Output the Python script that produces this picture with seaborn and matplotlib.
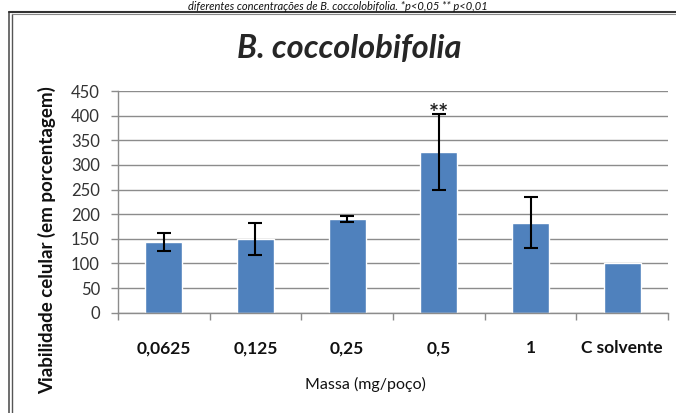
import matplotlib
matplotlib.use("Agg")
import matplotlib.pyplot as plt
import seaborn as sns
import pandas as pd
import numpy as np
from matplotlib.lines import Line2D

categories = ["0,0625", "0,125", "0,25", "0,5", "1", "C solvente"]
values = [143, 150, 190, 327, 183, 100]
errors = [18, 32, 6, 77, 51, 0]
yticks = [0, 50, 100, 150, 200, 250, 300, 350, 400, 450]

sns.set_theme(style="white")
plt.rcParams["font.family"] = ["Lato", "DejaVu Sans"]

fig = plt.figure(figsize=(6.76, 4.13), dpi=100)
ax = fig.add_axes([118/676, 1-312.7/413, 550/676, (312.7-91)/413])

df = pd.DataFrame({"cat": categories, "val": values})
sns.barplot(data=df, x="cat", y="val", color="#4F81BD", saturation=1,
            width=0.4, ax=ax, errorbar=None)
pos = np.arange(len(categories))
err_idx = [i for i, e in enumerate(errors) if e > 0]
ax.errorbar(pos[err_idx], [values[i] for i in err_idx],
            yerr=[errors[i] for i in err_idx], fmt="none",
            ecolor="black", elinewidth=1.5, capsize=5, capthick=1.5, zorder=5)
ax.text(3, values[3] + errors[3] - 16, "**", ha="center", va="baseline",
        fontsize=17, fontweight="bold", color="#222222")

ax.set_ylim(0, 450)
ax.set_xlim(-0.5, len(categories) - 0.5)
ax.set_yticks(yticks)
ax.set_yticklabels([str(t) for t in yticks], fontsize=12, color="#333333")
ax.yaxis.grid(True, color="#8c8c8c", linewidth=1)
ax.set_axisbelow(True)
for s in ["top", "right"]:
    ax.spines[s].set_visible(False)
for s in ["left", "bottom"]:
    ax.spines[s].set_color("#8c8c8c")
    ax.spines[s].set_linewidth(1)
ax.tick_params(axis="y", length=5, width=1, color="#8c8c8c", pad=8, left=True)
ax.set_xticks(pos)
ax.set_xticklabels(categories, fontsize=12.5, fontweight="bold", color="#111111")
ax.tick_params(axis="x", length=0, pad=20)
ax.set_xticks(np.arange(len(categories) + 1) - 0.5, minor=True)
ax.tick_params(axis="x", which="minor", length=5, width=1, color="#8c8c8c", bottom=True)

ax.set_xlabel("Massa (mg/poço)", fontsize=11.5, color="#111111")
ax.xaxis.set_label_coords((365-118)/550, -(377-312.7)/(312.7-91))
ax.set_ylabel("Viabilidade celular (em porcentagem)", fontsize=13.5,
              fontweight="bold", color="#111111")
ax.yaxis.set_label_coords(-(118-56)/550, (312.7-240)/(312.7-91))

fig.text(349/676, 1-48/413, "B. coccolobifolia", ha="center", va="center",
         fontsize=23.5, fontweight="bold", fontstyle="italic")

# frame of the embedded chart
fig.add_artist(Line2D([9/676, 9/676], [0, 1-12/413], transform=fig.transFigure,
                      color="#555555", linewidth=1.2))
fig.add_artist(Line2D([12/676, 12/676], [0, 1-14/413], transform=fig.transFigure,
                      color="#555555", linewidth=1.0))
fig.add_artist(Line2D([9/676, 1], [1-12/413, 1-12/413], transform=fig.transFigure,
                      color="#333333", linewidth=1.5))
fig.add_artist(Line2D([12/676, 1], [1-14/413, 1-14/413], transform=fig.transFigure,
                      color="#888888", linewidth=0.8))

# caption line from the page above
fig.text(0.5, 1-0.5/413, "diferentes concentrações de B. coccolobifolia. *p<0,05 ** p<0,01",
         ha="center", va="top", fontsize=8, fontstyle="italic", color="#111111")

fig.savefig("out.png", dpi=100)
